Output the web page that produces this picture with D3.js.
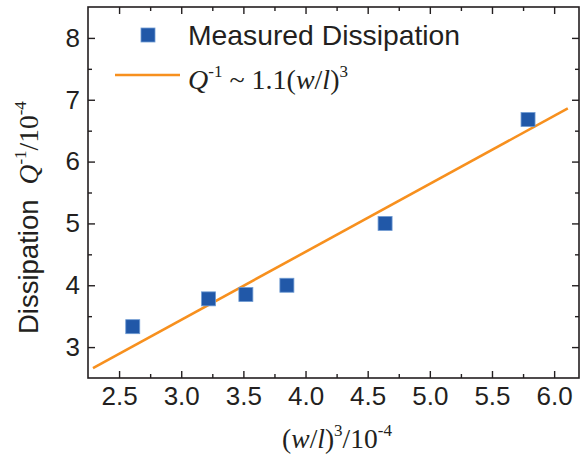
<!DOCTYPE html>
<html>
<head>
<meta charset="utf-8">
<script src="https://cdn.jsdelivr.net/npm/d3@7"></script>
<style>
  html, body { margin: 0; padding: 0; background: #fff; }
  svg { display: block; }
  .sans { font-family: "Liberation Sans", Arial, sans-serif; }
  .serif { font-family: "Liberation Serif", "Times New Roman", serif; }
</style>
</head>
<body>
<svg id="chart" width="584" height="459"></svg>
<script>
// Measured dissipation vs. (w/l)^3, both in units of 1e-4
const xValues = [2.61, 3.22, 3.52, 3.85, 4.64, 5.79];
const yValues = [3.33, 3.78, 3.85, 4.00, 5.00, 6.68];

// Fitted line Q^-1 ~ 1.1 (w/l)^3, end points
const fitX = [2.29, 6.11];
const fitY = [2.66, 6.86];

const xTicks = [2.5, 3.0, 3.5, 4.0, 4.5, 5.0, 5.5, 6.0];
const xMinorTicks = [2.75, 3.25, 3.75, 4.25, 4.75, 5.25, 5.75];
const yTicks = [3, 4, 5, 6, 7, 8];
const yMinorTicks = [3.5, 4.5, 5.5, 6.5, 7.5];

const xDomain = [2.25, 6.2];
const yDomain = [2.5, 8.5];

const legendLabel = "Measured Dissipation";

const blue = "#2158a8";
const orange = "#f7901e";
const ink = "#231f20";

const svg = d3.select("#chart");
const plot = { left: 88, right: 579, top: 7, bottom: 378 };

const x = d3.scaleLinear().domain(xDomain).range([plot.left, plot.right]);
const y = d3.scaleLinear().domain(yDomain).range([plot.bottom, plot.top]);

const major = 7, minor = 4;

function styleAxis(g) {
  g.select(".domain").remove();
  g.selectAll(".tick line").attr("stroke", ink).attr("stroke-width", 1.4);
  g.selectAll(".tick text")
    .attr("fill", ink)
    .attr("class", "sans")
    .style("font-size", "26px");
}

// bottom axis with labels
svg.append("g").attr("transform", `translate(0,${plot.bottom})`)
  .call(d3.axisBottom(x).tickValues(xTicks).tickFormat(d3.format(".1f")).tickSize(-major).tickPadding(9))
  .call(styleAxis);
svg.append("g").attr("transform", `translate(0,${plot.bottom})`)
  .call(d3.axisBottom(x).tickValues(xMinorTicks).tickFormat("").tickSize(-minor))
  .call(styleAxis);
// top axis (ticks only)
svg.append("g").attr("transform", `translate(0,${plot.top})`)
  .call(d3.axisTop(x).tickValues(xTicks).tickFormat("").tickSize(-major))
  .call(styleAxis);
svg.append("g").attr("transform", `translate(0,${plot.top})`)
  .call(d3.axisTop(x).tickValues(xMinorTicks).tickFormat("").tickSize(-minor))
  .call(styleAxis);
// left axis with labels
svg.append("g").attr("transform", `translate(${plot.left},0)`)
  .call(d3.axisLeft(y).tickValues(yTicks).tickFormat(d3.format("d")).tickSize(-major).tickPadding(8))
  .call(styleAxis);
svg.append("g").attr("transform", `translate(${plot.left},0)`)
  .call(d3.axisLeft(y).tickValues(yMinorTicks).tickFormat("").tickSize(-minor))
  .call(styleAxis);
// right axis (ticks only)
svg.append("g").attr("transform", `translate(${plot.right},0)`)
  .call(d3.axisRight(y).tickValues(yTicks).tickFormat("").tickSize(-major))
  .call(styleAxis);
svg.append("g").attr("transform", `translate(${plot.right},0)`)
  .call(d3.axisRight(y).tickValues(yMinorTicks).tickFormat("").tickSize(-minor))
  .call(styleAxis);

// frame
svg.append("rect")
  .attr("x", plot.left).attr("y", plot.top)
  .attr("width", plot.right - plot.left).attr("height", plot.bottom - plot.top)
  .attr("fill", "none").attr("stroke", ink).attr("stroke-width", 1.6);

// fitted line
const line = d3.line().x(d => x(d[0])).y(d => y(d[1]));
svg.append("path")
  .datum(fitX.map((v, i) => [v, fitY[i]]))
  .attr("d", line)
  .attr("fill", "none").attr("stroke", orange).attr("stroke-width", 2.6);

// measured points
const size = 14;
svg.append("g").selectAll("rect")
  .data(xValues.map((v, i) => [v, yValues[i]]))
  .join("rect")
  .attr("x", d => x(d[0]) - size / 2)
  .attr("y", d => y(d[1]) - size / 2)
  .attr("width", size).attr("height", size)
  .attr("fill", blue).attr("stroke", "#6f9bd3").attr("stroke-width", 0.8);

// legend
svg.append("rect")
  .attr("x", 148 - size / 2).attr("y", 35 - size / 2)
  .attr("width", size).attr("height", size)
  .attr("fill", blue).attr("stroke", "#6f9bd3").attr("stroke-width", 0.8);
svg.append("text").attr("class", "sans")
  .attr("x", 188).attr("y", 44.5)
  .attr("fill", ink).style("font-size", "28.3px")
  .text(legendLabel);

svg.append("line")
  .attr("x1", 115).attr("x2", 180).attr("y1", 75).attr("y2", 75)
  .attr("stroke", orange).attr("stroke-width", 2.6);
const fitLabel = svg.append("text").attr("class", "serif")
  .attr("x", 188).attr("y", 89)
  .attr("fill", ink).style("font-size", "28px");
fitLabel.append("tspan").style("font-style", "italic").text("Q");
fitLabel.append("tspan").attr("dy", -12).style("font-size", "17px").text("-1");
fitLabel.append("tspan").attr("dy", 12).text(" ~ 1.1(");
fitLabel.append("tspan").style("font-style", "italic").text("w");
fitLabel.append("tspan").text("/");
fitLabel.append("tspan").style("font-style", "italic").text("l");
fitLabel.append("tspan").text(")");
fitLabel.append("tspan").attr("dy", -12).style("font-size", "17px").text("3");

// x axis title
const xTitle = svg.append("text").attr("class", "serif")
  .attr("x", 337).attr("y", 448)
  .attr("text-anchor", "middle")
  .attr("fill", ink).style("font-size", "27.5px");
xTitle.append("tspan").text("(");
xTitle.append("tspan").style("font-style", "italic").text("w");
xTitle.append("tspan").text("/");
xTitle.append("tspan").style("font-style", "italic").text("l");
xTitle.append("tspan").text(")");
xTitle.append("tspan").attr("dy", -12).style("font-size", "17px").text("3");
xTitle.append("tspan").attr("dy", 12).text("/10");
xTitle.append("tspan").attr("dy", -12).style("font-size", "17px").text("-4");

// y axis title
const yTitle = svg.append("text")
  .attr("transform", "translate(38,334) rotate(-90)")
  .attr("fill", ink);
yTitle.append("tspan").attr("class", "sans").style("font-size", "27.5px").text("Dissipation");
yTitle.append("tspan").attr("class", "serif").attr("dx", 15)
  .style("font-size", "27.5px").style("font-style", "italic").text("Q");
yTitle.append("tspan").attr("class", "serif").attr("dy", -12).style("font-size", "17px").text("-1");
yTitle.append("tspan").attr("class", "serif").attr("dy", 12).style("font-size", "27.5px").text("/10");
yTitle.append("tspan").attr("class", "serif").attr("dy", -12).style("font-size", "17px").text("-4");
</script>
</body>
</html>
